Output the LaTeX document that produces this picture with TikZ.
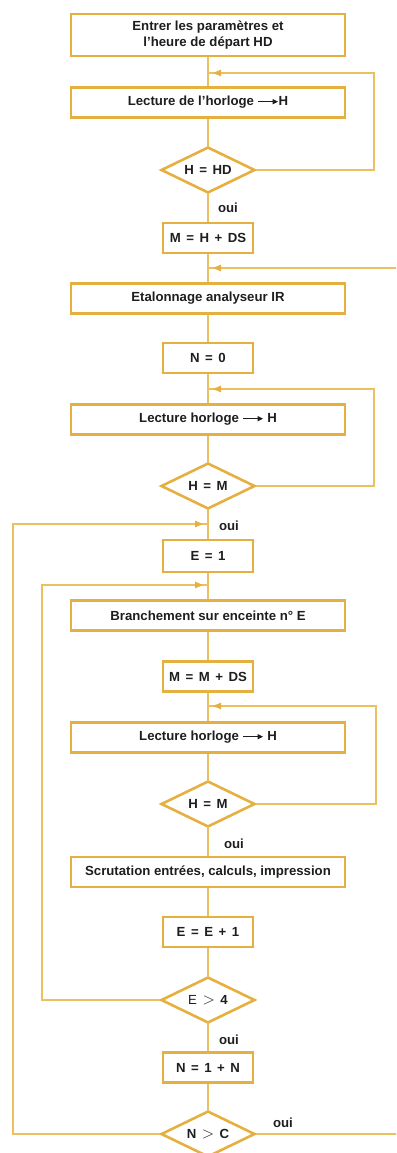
\documentclass[tikz,border=0pt]{standalone}
\usepackage{fontspec}
\setmainfont{Liberation Sans}
\usetikzlibrary{shapes.geometric,arrows.meta,decorations.markings}
\definecolor{gold}{HTML}{E6B040}
\definecolor{goldline}{HTML}{EAC060}
\definecolor{ink}{HTML}{1E1E1E}
\newcommand\harr{\tikz[baseline=-0.6ex]\draw[draw=ink,line width=1pt,-{Triangle[length=5.5pt,width=5pt]}] (0pt,0pt) -- (20pt,0pt);}
\newcommand\es{\hspace{0.42em}}
\newcommand\bgt{\raisebox{0.05ex}{\scalebox{1.35}{$>$}}}
\begin{document}
\begin{tikzpicture}[x=1pt,y=-1pt,
  font=\bfseries\fontsize{13.2}{15.5}\selectfont, text=ink,
  wbox/.style={draw=gold, line width=2.6pt, fill=white, minimum width=274pt, minimum height=30pt, inner sep=2pt, align=center},
  sbox/.style={draw=gold, line width=2.6pt, fill=white, minimum width=90pt, minimum height=30pt, inner sep=2pt, align=center},
  dec/.style={diamond, aspect=2, draw=gold, line width=2.6pt, fill=white, minimum width=94pt, minimum height=46pt, inner sep=0pt},
  lab/.style={inner sep=1pt},
  flow/.style={draw=goldline, line width=1.2pt},
  merge/.style={flow, postaction={decorate}, decoration={markings, mark=at position -5pt with {\arrow[gold]{Triangle[length=8pt,width=6.5pt]}}}}
]
\useasboundingbox (0,0) rectangle (396,1153);
\fill[white] (0,0) rectangle (396,1153);
\clip (0,0) rectangle (396,1153);

% nodes
\node[wbox, minimum height=42pt] (b1) at (208,35) {Entrer les paramètres et\\l'heure de départ HD};
\node[wbox] (b2) at (208,102.5) {Lecture de l'horloge \harr H};
\node[dec] (d1) at (208,170) {H\es=\es HD};
\node[sbox] (b3) at (208,238) {M\es=\es H\es+\es DS};
\node[wbox] (b4) at (208,298.5) {Etalonnage analyseur IR};
\node[sbox] (b5) at (208,358) {N\es=\es 0};
\node[wbox] (b6) at (208,419.5) {Lecture horloge \harr\ H};
\node[dec] (d2) at (208,486) {H\es=\es M};
\node[sbox, minimum height=32pt] (b7) at (208,556) {E\es=\es 1};
\node[wbox] (b8) at (208,615.5) {Branchement sur enceinte n° E};
\node[sbox] (b9) at (208,676.5) {M\es=\es M\es+\es DS};
\node[wbox] (b10) at (208,737.5) {Lecture horloge \harr\ H};
\node[dec] (d3) at (208,804) {H\es=\es M};
\node[wbox] (b11) at (208,872) {Scrutation entrées, calculs, impression};
\node[sbox] (b12) at (208,932) {E\es=\es E\es+\es 1};
\node[dec] (d4) at (208,1000) {{\mdseries E}\es\bgt\es 4};
\node[sbox] (b13) at (208,1067.5) {N\es=\es 1\es+\es N};
\node[dec] (d5) at (208,1134) {N\es\bgt\es C};

% labels
\node[lab] (o1) at (228,208) {oui};
\node[lab] (o2) at (229,526) {oui};
\node[lab] (o3) at (234,844) {oui};
\node[lab] (o4) at (229,1040) {oui};
\node[lab] (o5) at (283,1123) {oui};

% main line
\draw[flow] (b1.south) -- (b2.north);
\draw[flow] (b2.south) -- (d1.north);
\draw[flow] (d1.south) -- (b3.north);
\draw[flow] (b3.south) -- (b4.north);
\draw[flow] (b4.south) -- (b5.north);
\draw[flow] (b5.south) -- (b6.north);
\draw[flow] (b6.south) -- (d2.north);
\draw[flow] (d2.south) -- (b7.north);
\draw[flow] (b7.south) -- (b8.north);
\draw[flow] (b8.south) -- (b9.north);
\draw[flow] (b9.south) -- (b10.north);
\draw[flow] (b10.south) -- (d3.north);
\draw[flow] (d3.south) -- (b11.north);
\draw[flow] (b11.south) -- (b12.north);
\draw[flow] (b12.south) -- (d4.north);
\draw[flow] (d4.south) -- (b13.north);
\draw[flow] (b13.south) -- (d5.north);

% loop coordinates
\coordinate (m1) at (208,73);  \coordinate (c1) at (374,73);
\coordinate (m2) at (208,268); \coordinate (e1) at (400,268);
\coordinate (m3) at (208,389); \coordinate (c2) at (374,389);
\coordinate (m4) at (208,524); \coordinate (c4) at (13,524);
\coordinate (m5) at (208,585); \coordinate (c5) at (42,585);
\coordinate (m6) at (208,706); \coordinate (c6) at (376,706);
\coordinate (e2) at (400,1134);

\draw[merge] (d1.east) -| (c1) -- (m1);
\draw[merge] (e1) -- (m2);
\draw[merge] (d2.east) -| (c2) -- (m3);
\draw[merge] (d5.west) -| (c4) -- (m4);
\draw[merge] (d4.west) -| (c5) -- (m5);
\draw[merge] (d3.east) -| (c6) -- (m6);
\draw[flow] (d5.east) -- (e2);
\end{tikzpicture}
\end{document}
